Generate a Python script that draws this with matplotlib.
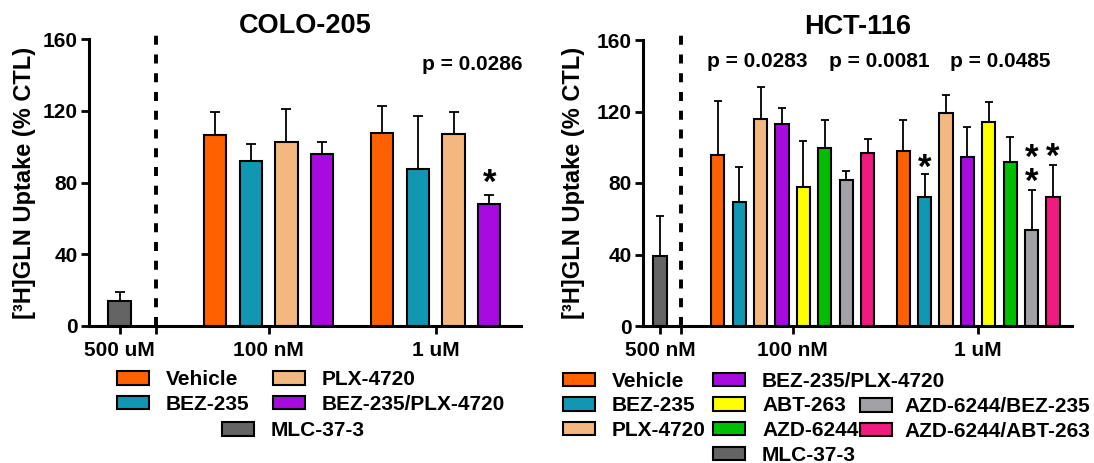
import matplotlib
matplotlib.use("Agg")
import matplotlib.pyplot as plt
from matplotlib.patches import Patch

plt.rcParams['font.family'] = ['Liberation Sans', 'DejaVu Sans']
plt.rcParams['font.weight'] = 'bold'
plt.rcParams['lines.scale_dashes'] = False

#colors of each treatment
colorDict = {"Vehicle": "#FF6100",
             "BEZ-235": "#1297B3",
             "PLX-4720": "#F2B880",
             "BEZ-235/PLX-4720": "#A70BDF",
             "ABT-263": "#FFFF00",
             "AZD-6244": "#00BF00",
             "AZD-6244/BEZ-235": "#A1A1A6",
             "AZD-6244/ABT-263": "#F01A80",
             "MLC-37-3": "#646464"}

#COLO-205 data (% CTL, mean and sem)
colo_drugs = ["Vehicle", "BEZ-235", "PLX-4720", "BEZ-235/PLX-4720"]
colo_groups = ["100 nM", "1 uM"]
colo_100nM = [106.4, 92.1, 102.5, 96.2]
colo_100nM_sem = [13.2, 9.6, 18.5, 6.7]
colo_1uM = [107.5, 87.8, 107.0, 68.2]
colo_1uM_sem = [15.1, 29.4, 12.3, 5.0]
colo_mlc = 13.8
colo_mlc_sem = 4.9
colo_mlc_label = "500 uM"
colo_pvals = ["p = 0.0286"]
#(group index, drug index, star height)
colo_stars = [(1, 3, 85.2)]

#HCT-116 data
hct_drugs = ["Vehicle", "BEZ-235", "PLX-4720", "BEZ-235/PLX-4720",
             "ABT-263", "AZD-6244", "AZD-6244/BEZ-235", "AZD-6244/ABT-263"]
hct_groups = ["100 nM", "1 uM"]
hct_100nM = [95.9, 69.6, 116.0, 113.2, 77.6, 99.6, 81.9, 96.6]
hct_100nM_sem = [30.2, 19.2, 17.7, 9.0, 25.7, 15.5, 5.0, 8.0]
hct_1uM = [98.1, 72.2, 119.2, 94.6, 114.3, 91.8, 53.9, 72.2]
hct_1uM_sem = [17.0, 12.7, 10.3, 16.7, 11.0, 13.8, 22.0, 17.7]
hct_mlc = 39.2
hct_mlc_sem = 22.5
hct_mlc_label = "500 nM"
hct_pvals = ["p = 0.0283", "p = 0.0081", "p = 0.0485"]
hct_stars = [(1, 1, 93.6), (1, 6, 86.2), (1, 6, 99.2), (1, 7, 100.1)]

W, H = 1094, 463


def drawPanel(ax, title, drugs, groups, means, sems, mlc, mlcSem, mlcLabel,
              mlcPos, dashPos, centers, xmax, capsize, stars):
    #MLC-37-3 reference bar
    ax.errorbar([mlcPos], [mlc], yerr=[[0], [mlcSem]], fmt='none', ecolor='black',
                elinewidth=1.3, capsize=capsize, capthick=1.3, zorder=1)
    ax.bar([mlcPos], [mlc], width=0.62, color=colorDict["MLC-37-3"],
           edgecolor='black', linewidth=1.5, zorder=2)
    n = len(drugs)
    for g in range(len(groups)):
        pos = [centers[g] + i - (n - 1) / 2 for i in range(n)]
        ax.errorbar(pos, means[g], yerr=[[0] * n, sems[g]], fmt='none', ecolor='black',
                    elinewidth=1.3, capsize=capsize, capthick=1.3, zorder=1)
        ax.bar(pos, means[g], width=0.62, color=[colorDict[d] for d in drugs],
               edgecolor='black', linewidth=1.5, zorder=2)
    for g, i, y in stars:
        x = centers[g] + i - (n - 1) / 2
        ax.annotate("*", (x, y), xytext=(0, -0.56 * 25), textcoords='offset points',
                    ha='center', va='baseline', fontsize=25, fontweight='bold')
    #dashed separator
    ax.plot([dashPos, dashPos], [0, 164.3], color='black', lw=2.8, dashes=(6.5, 7),
            clip_on=False, zorder=3)
    ax.set_xlim(0, xmax)
    ax.set_ylim(0, 160)
    ax.set_yticks([0, 40, 80, 120, 160])
    ax.set_xticks([mlcPos, dashPos] + list(centers))
    ax.set_xticklabels([mlcLabel, ""] + groups)
    ax.spines['top'].set_visible(False)
    ax.spines['right'].set_visible(False)
    ax.spines['left'].set_linewidth(2.2)
    ax.spines['bottom'].set_linewidth(2.2)
    ax.tick_params(axis='y', width=2, length=5.5, pad=3, labelsize=15)
    ax.tick_params(axis='x', width=2, length=5.8, pad=5, labelsize=15)
    ax.text(0.5, 1 + 6 / 286.4, title, transform=ax.transAxes, ha='center',
            va='baseline', fontsize=19.5, fontweight='bold')
    ax.set_ylabel("[³H]GLN Uptake (% CTL)", fontsize=17, fontweight='bold')


def addLegendColumn(fig, labels, x_px, top_px, textpad=0.8):
    handles = [Patch(facecolor=colorDict[l], edgecolor='black', linewidth=1.5) for l in labels]
    fig.legend(handles, labels, loc='upper left', bbox_to_anchor=(x_px / W, 1 - top_px / H),
               frameon=False, fontsize=15, handlelength=1.54, handleheight=0.61,
               handletextpad=textpad, labelspacing=0.275, borderpad=0, borderaxespad=0)


fig = plt.figure(figsize=(W / 100, H / 100), dpi=100)
axL = fig.add_axes([89.3 / W, 1 - 325.7 / H, 431.4 / W, 286.4 / H])
axR = fig.add_axes([643.3 / W, 1 - 326 / H, 429 / W, 286 / H])

drawPanel(axL, "COLO-205", colo_drugs, colo_groups, [colo_100nM, colo_1uM],
          [colo_100nM_sem, colo_1uM_sem], colo_mlc, colo_mlc_sem, colo_mlc_label,
          0.846, 1.86, [5.02, 9.70], 12.08, 3.8, colo_stars)
drawPanel(axR, "HCT-116", hct_drugs, hct_groups, [hct_100nM, hct_1uM],
          [hct_100nM_sem, hct_1uM_sem], hct_mlc, hct_mlc_sem, hct_mlc_label,
          0.785, 1.75, [6.98, 15.65], 20.05, 2.9, hct_stars)
axL.yaxis.set_label_coords(-53 / 431.4, 0.5)
axR.yaxis.set_label_coords(-58 / 429, 0.5)

#p values
axL.text(1.005, 145.7, colo_pvals[0], transform=axL.get_yaxis_transform(),
         ha='right', va='center', fontsize=15, fontweight='bold')
for xf, p in zip([0.265, 0.551, 0.831], hct_pvals):
    axR.text(xf, 147.9, p, transform=axR.get_yaxis_transform(),
             ha='center', va='center', fontsize=15, fontweight='bold')

#legends
addLegendColumn(fig, ["Vehicle", "BEZ-235"], 116.7, 370.3)
addLegendColumn(fig, ["PLX-4720", "BEZ-235/PLX-4720"], 272.7, 370.3)
addLegendColumn(fig, ["MLC-37-3"], 221.7, 421.3)
addLegendColumn(fig, ["Vehicle", "BEZ-235", "PLX-4720"], 563.3, 371.6)
addLegendColumn(fig, ["BEZ-235/PLX-4720", "ABT-263", "AZD-6244", "MLC-37-3"], 713.3, 371.6)
addLegendColumn(fig, ["AZD-6244/BEZ-235", "AZD-6244/ABT-263"], 859.5, 397.3, textpad=0.6)

fig.savefig("out.png", dpi=100)
